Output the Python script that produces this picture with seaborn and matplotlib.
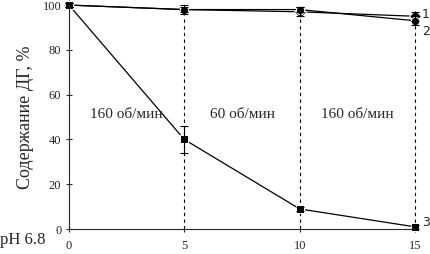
import matplotlib
matplotlib.use('Agg')
import matplotlib.pyplot as plt
import seaborn as sns
import pandas as pd

sns.set_style("ticks")
plt.rcParams['font.family'] = ['Liberation Serif', 'DejaVu Serif']

# time, min
time = [0, 5, 10, 15]
# DG content, % (curves 1, 2, 3)
curve1 = [100, 98, 97, 95]
curve2 = [100, 98, 98, 93]
curve3 = [100, 40, 9, 1]
err1 = [1, 2, 2, 2]
err2 = [1, 1, 1, 2]
err3 = [1, 6, 1, 1]
speeds = ['160 об/мин', '60 об/мин', '160 об/мин']
speed_x = [2.5, 7.5, 12.5]

df = pd.DataFrame({
    'time': time * 3,
    'value': curve1 + curve2 + curve3,
    'curve': ['1'] * 4 + ['2'] * 4 + ['3'] * 4,
})

fig = plt.figure(figsize=(4.31, 2.54), dpi=100)
ax = fig.add_axes([0.16, 0.098, 0.803, 0.882])

for t in time[1:]:
    ax.plot([t, t], [0, 98], ls=(0, (3, 3)), color='black', lw=0.8, zorder=1, clip_on=False)

sns.lineplot(data=df, x='time', y='value', hue='curve', style='curve',
             markers={'1': 'D', '2': 'o', '3': 's'}, dashes=False,
             palette=['black'] * 3, markersize=6, lw=0.9, legend=False, ax=ax,
             clip_on=False)

for vals, errs in [(curve1, err1), (curve2, err2), (curve3, err3)]:
    ax.errorbar(time, vals, yerr=errs, fmt='none', ecolor='black',
                elinewidth=0.8, capsize=3, capthick=0.8, clip_on=False)

for s, x in zip(speeds, speed_x):
    ax.text(x, 51, s, ha='center', va='center', fontsize=11)

for lab, y in zip(['1', '2', '3'], [96, 88, 3]):
    ax.text(15.3, y, lab, fontsize=9, family='DejaVu Sans', va='center', clip_on=False)

ax.set_xlim(0, 15)
ax.set_ylim(0, 100)
ax.set_xticks([0, 5, 10, 15])
ax.set_yticks([0, 20, 40, 60, 80, 100])
ax.tick_params(axis='both', labelsize=9, length=4, width=0.8, direction='inout')
ax.tick_params(axis='x', pad=6)
ax.set_xlabel('')
ax.set_ylabel('Содержание ДГ, %', fontsize=13, labelpad=6)
sns.despine(ax=ax)
fig.text(0.0, 0.04, 'pH 6.8', fontsize=12)

fig.savefig('out.png', dpi=100)
